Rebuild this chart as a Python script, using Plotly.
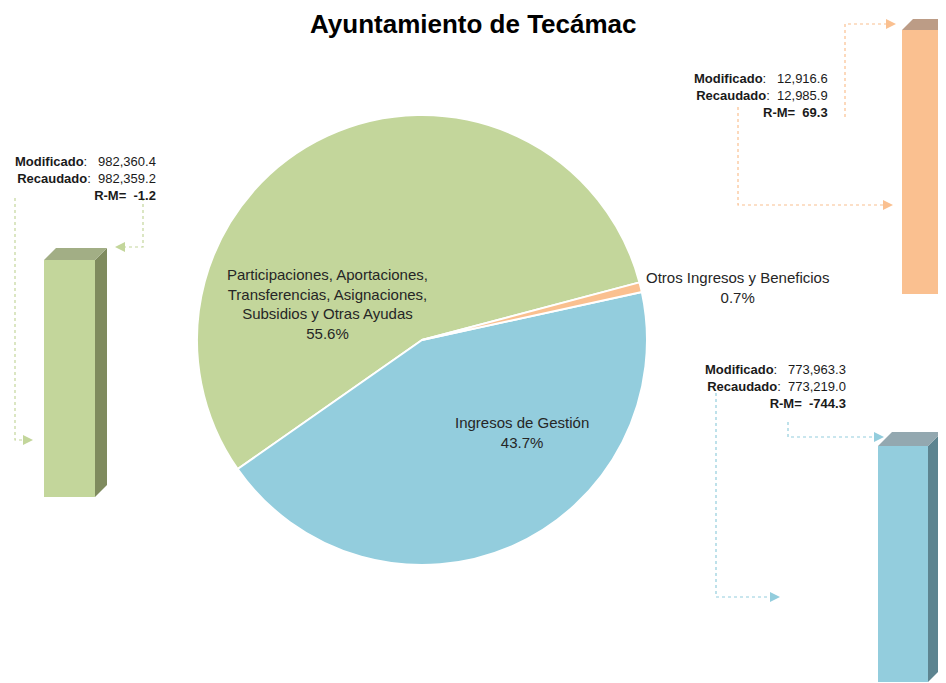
import plotly.graph_objects as go

# data
categorias = [
    "Participaciones, Aportaciones,<br>Transferencias, Asignaciones,<br>Subsidios y Otras Ayudas",
    "Ingresos de Gestión",
    "Otros Ingresos y Beneficios",
]
porcentajes = [55.6, 43.7, 0.7]
modificado = [982360.4, 773963.3, 12916.6]
recaudado = [982359.2, 773219.0, 12985.9]
colores = ["#C3D69B", "#93CDDD", "#FAC090"]
colores_lado = ["#7F8B5E", "#5D8490", "#B98A63"]
colores_tapa = ["#A2AE85", "#93A8B0", "#BC9C86"]

W, H = 946, 683
OFF = 8  # page body margin; work in page pixels
FONT = "Liberation Sans, Arial, sans-serif"

fig = go.Figure()

# pie (center ~ (422, 340) px on page, radius ~225 px)
cx, cy, r = 422, 340, 225
fw, fh = W - OFF, H - OFF
fig.add_trace(go.Pie(
    labels=[c.replace("<br>", " ") for c in categorias], values=porcentajes,
    sort=False, direction="counterclockwise", rotation=235,
    marker=dict(colors=colores, line=dict(color="white", width=2)),
    textinfo="none", hoverinfo="label+percent", showlegend=False,
    domain=dict(x=[(cx - OFF - r) / fw, (cx - OFF + r) / fw],
                y=[(H - cy - r) / fh, (H - cy + r) / fh]),
))

# invisible trace so the pixel-space overlay axes exist
fig.add_trace(go.Scatter(x=[OFF, W], y=[OFF, H], mode="markers", marker=dict(opacity=0),
                         hoverinfo="skip", showlegend=False))

# title
fig.add_annotation(x=473, y=24, text="<b>Ayuntamiento de Tecámac</b>", showarrow=False,
                   xanchor="center", yanchor="middle",
                   font=dict(family=FONT, size=26, color="#000000"))

# pie labels
label_pos = [(327, 304), (522, 432), (737, 287)]
for cat, p, (lx, ly) in zip(categorias, porcentajes, label_pos):
    fig.add_annotation(x=lx, y=ly, text=f"{cat}<br>{p:.1f}%", showarrow=False,
                       font=dict(family=FONT, size=15, color="#262626"), align="center")


def box3d(x0, top, w, bottom, d, front_c, side_c, cap_c):
    front = f"M {x0} {top} L {x0 + w} {top} L {x0 + w} {bottom} L {x0} {bottom} Z"
    side = f"M {x0 + w} {top} L {x0 + w + d} {top - d} L {x0 + w + d} {bottom - d} L {x0 + w} {bottom} Z"
    cap = f"M {x0} {top} L {x0 + d} {top - d} L {x0 + w + d} {top - d} L {x0 + w} {top} Z"
    out = []
    for path, fill in ((front, front_c), (side, side_c), (cap, cap_c)):
        out.append(dict(type="path", path=path, xref="x", yref="y", fillcolor=fill,
                        line=dict(width=0), layer="above"))
    return out


def connector(points, color):
    path = "M " + " L ".join(f"{x} {y}" for x, y in points)
    return dict(type="path", path=path, xref="x", yref="y",
                line=dict(color=color, width=1.2, dash="dot"), layer="above")


def arrow(x, y, color, direction):
    s = 10 * direction
    path = f"M {x} {y} L {x - s} {y - 5} L {x - s} {y + 5} Z"
    return dict(type="path", path=path, xref="x", yref="y", fillcolor=color,
                line=dict(width=0), layer="above")


shapes = []
# bars (decorative 3D columns)
shapes += box3d(44, 260, 51, 497, 12, colores[0], colores_lado[0], colores_tapa[0])
shapes += box3d(878, 446, 50, 682, 14, colores[1], colores_lado[1], colores_tapa[1])
shapes += box3d(902, 30, 42, 294, 11, colores[2], colores_lado[2], colores_tapa[2])

# connectors
g, b, o = colores
shapes += [
    connector([(15, 198), (15, 440), (24, 440)], g), arrow(33, 440, g, 1),
    connector([(143, 198), (143, 247), (125, 247)], g), arrow(115, 247, g, -1),
    connector([(845, 117), (845, 24), (886, 24)], o), arrow(896, 24, o, 1),
    connector([(738, 107), (738, 205), (883, 205)], o), arrow(893, 205, o, 1),
    connector([(716, 393), (716, 597), (770, 597)], b), arrow(780, 597, b, 1),
    connector([(788, 422), (788, 437), (874, 437)], b), arrow(884, 437, b, 1),
]

# value boxes
nb = "\u00a0"
box_pos = [(158, 178), (848, 386), (830, 95)]
for m, rc, (bx, by) in zip(modificado, recaudado, box_pos):
    diff = rc - m
    txt = (f"<b>Modificado</b>:{nb * 3}{m:,.1f}<br>"
           f"<b>Recaudado</b>:{nb * 2}{rc:,.1f}<br>"
           f"<b>R-M={nb * 2}{diff:,.1f}</b>")
    fig.add_annotation(x=bx, y=by, text=txt, showarrow=False, xanchor="right",
                       yanchor="middle", align="right",
                       font=dict(family=FONT, size=13, color="#1a1a1a"))

fig.update_layout(
    width=fw, height=fh, margin=dict(l=0, r=0, t=0, b=0),
    paper_bgcolor="white", plot_bgcolor="rgba(0,0,0,0)",
    xaxis=dict(range=[OFF, W], visible=False, fixedrange=True, domain=[0, 1]),
    yaxis=dict(range=[H, OFF], visible=False, fixedrange=True, domain=[0, 1]),
    shapes=shapes,
)

fig.write_html("out.html")
